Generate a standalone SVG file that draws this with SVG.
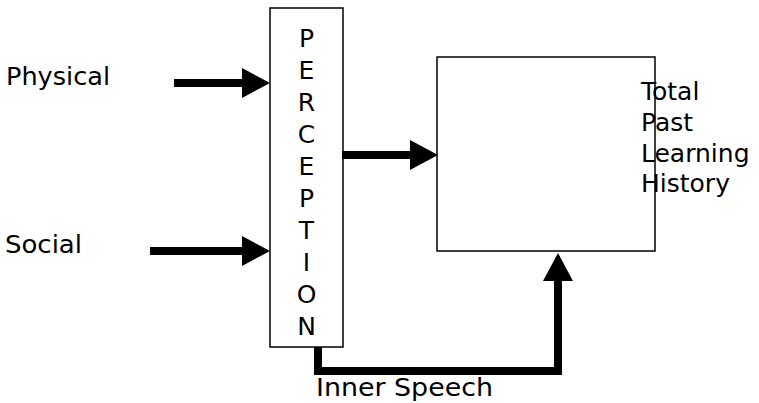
<svg xmlns="http://www.w3.org/2000/svg" width="759" height="403" viewBox="0 0 759 403">
<style>
text{font-family:"DejaVu Sans","Verdana",sans-serif;font-size:25px;fill:#000}
.box{fill:#fff;stroke:#000;stroke-width:1.5}
.conn{fill:none;stroke:#000;stroke-width:8;stroke-linejoin:miter}
</style>
<defs>
<marker id="ah" viewBox="0 0 28 30" refX="2" refY="15" markerWidth="28" markerHeight="30" markerUnits="userSpaceOnUse" orient="auto">
<path d="M0,0 L28,15 L0,30 z" fill="#000"/>
</marker>
</defs>
<rect width="759" height="403" fill="#fff"/>
<g id="physical"><text x="6" y="85" textLength="104" lengthAdjust="spacingAndGlyphs">Physical</text></g>
<g id="social"><text x="5" y="253" textLength="77" lengthAdjust="spacingAndGlyphs">Social</text></g>
<g id="perception">
<rect class="box" x="270" y="8" width="73" height="339"/>
<g text-anchor="middle">
<text x="306.5" y="47">P</text>
<text x="306.5" y="79">E</text>
<text x="306.5" y="111">R</text>
<text x="306.5" y="143">C</text>
<text x="306.5" y="175">E</text>
<text x="306.5" y="207">P</text>
<text x="306.5" y="239">T</text>
<text x="306.5" y="271">I</text>
<text x="306.5" y="303">O</text>
<text x="306.5" y="335">N</text>
</g>
</g>
<g id="history">
<rect class="box" x="437" y="57" width="218" height="194"/>
<text x="641" y="100">Total</text>
<text x="641" y="131">Past</text>
<text x="641" y="162">Learning</text>
<text x="641" y="192">History</text>
</g>
<g id="connectors">
<path class="conn" d="M174,83 H244" marker-end="url(#ah)"/>
<path class="conn" d="M150,251 H244" marker-end="url(#ah)"/>
<path class="conn" d="M342,155 H412" marker-end="url(#ah)"/>
<path class="conn" d="M318,347 V371 H558 V279" marker-end="url(#ah)"/>
</g>
<g id="inner-speech"><text x="316" y="396" textLength="177" lengthAdjust="spacingAndGlyphs">Inner Speech</text></g>
</svg>
